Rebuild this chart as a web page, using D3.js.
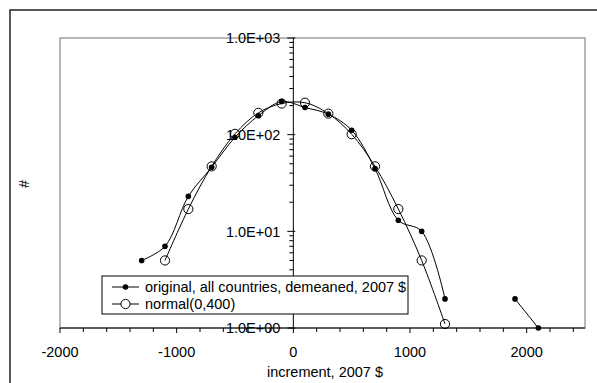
<!DOCTYPE html>
<html>
<head>
<meta charset="utf-8">
<script src="https://cdn.jsdelivr.net/npm/d3@7"></script>
<style>
  html, body { margin: 0; padding: 0; background: #fff; }
  svg text { font-family: "Liberation Sans", Arial, sans-serif; fill: #000; }
</style>
</head>
<body>
<svg id="chart" width="597" height="383"></svg>
<script>
// Increment bins (2007 $) and counts per bin
const originalX = [-1300, -1100, -900, -700, -500, -300, -100, 100, 300, 500, 700, 900, 1100, 1300, 1500, 1700, 1900, 2100];
const originalY = [5, 7, 23, 46, 94, 157, 220, 191, 163, 111, 44.5, 13, 10, 2, null, null, 2, 1];

const normalX = [-1100, -900, -700, -500, -300, -100, 100, 300, 500, 700, 900, 1100, 1300];
const normalY = [5, 17, 47, 102, 168, 210, 214, 165, 101, 47, 17, 5, 1.1];

const xTickLabels = [-2000, -1000, 0, 1000, 2000];
const yTickLabels = [1, 10, 100, 1000];

const seriesNames = ["original, all countries, demeaned, 2007 $", "normal(0,400)"];
const xTitle = "increment, 2007 $";
const yTitle = "#";

const FS = 14.5;
const svg = d3.select("#chart");
const plot = { left: 60, top: 38, right: 585, bottom: 328 };

const x = d3.scaleLinear().domain([-2000, 2500]).range([plot.left, plot.right]);
const y = d3.scaleLog().domain([1, 1000]).range([plot.bottom, plot.top]);

// outer chart frame
svg.append("rect")
  .attr("x", 10).attr("y", 10).attr("width", 640).attr("height", 420)
  .attr("fill", "none").attr("stroke", "#222").attr("stroke-width", 1.5);

// plot area frame
svg.append("rect")
  .attr("x", plot.left).attr("y", plot.top)
  .attr("width", plot.right - plot.left).attr("height", plot.bottom - plot.top)
  .attr("fill", "none").attr("stroke", "#a0a0a0").attr("stroke-width", 1.5);

// x axis along the bottom
const gx = svg.append("g");
gx.append("line")
  .attr("x1", plot.left).attr("x2", plot.right)
  .attr("y1", plot.bottom).attr("y2", plot.bottom)
  .attr("stroke", "#000").attr("stroke-width", 1);
const minorX = d3.range(-2000, 2500, 200);
gx.selectAll("line.minor").data(minorX).join("line")
  .attr("class", "minor")
  .attr("x1", d => x(d)).attr("x2", d => x(d))
  .attr("y1", plot.bottom).attr("y2", d => plot.bottom + (d % 1000 === 0 ? 5 : 4))
  .attr("stroke", "#000");
gx.selectAll("text").data(xTickLabels).join("text")
  .attr("x", d => x(d)).attr("y", 357)
  .attr("text-anchor", "middle").attr("font-size", FS)
  .text(d => d3.format("d")(d).replace("−", "-"));

// y axis crossing at x = 0
const x0 = x(0);
const gy = svg.append("g");
gy.append("line")
  .attr("x1", x0).attr("x2", x0)
  .attr("y1", plot.top).attr("y2", plot.bottom)
  .attr("stroke", "#000").attr("stroke-width", 1);
const minorY = [];
for (let dec = 1; dec < 1000; dec *= 10) {
  for (let m = 2; m <= 9; m++) minorY.push(dec * m);
}
gy.selectAll("line.minor").data(minorY).join("line")
  .attr("class", "minor")
  .attr("x1", x0 - 4).attr("x2", x0)
  .attr("y1", d => y(d)).attr("y2", d => y(d))
  .attr("stroke", "#000");
gy.selectAll("line.major").data(yTickLabels).join("line")
  .attr("class", "major")
  .attr("x1", x0 - 6).attr("x2", x0 + 2)
  .attr("y1", d => y(d)).attr("y2", d => y(d))
  .attr("stroke", "#000");
gy.selectAll("text").data(yTickLabels).join("text")
  .attr("x", x0 - 13).attr("y", d => y(d))
  .attr("dy", "0.36em")
  .attr("text-anchor", "end").attr("font-size", FS)
  .text(d => d.toExponential(1).toUpperCase().replace(/E([+-])(\d)$/, "E$10$2"));

// axis titles
svg.append("text")
  .attr("x", 325).attr("y", 377)
  .attr("text-anchor", "middle").attr("font-size", FS)
  .text(xTitle);
svg.append("text")
  .attr("transform", "translate(29,184) rotate(-90)")
  .attr("text-anchor", "middle").attr("font-size", FS)
  .text(yTitle);

// smoothed series lines
const line = d3.line()
  .defined(d => d[1] != null && d[1] > 0)
  .x(d => x(d[0])).y(d => y(d[1]))
  .curve(d3.curveCatmullRom.alpha(0.5));

const original = originalX.map((v, i) => [v, originalY[i]]);
const normal = normalX.map((v, i) => [v, normalY[i]]);

svg.append("path").datum(original)
  .attr("d", line).attr("fill", "none").attr("stroke", "#000").attr("stroke-width", 1);
svg.append("path").datum(normal)
  .attr("d", line).attr("fill", "none").attr("stroke", "#000").attr("stroke-width", 1);

svg.append("g").selectAll("circle").data(original.filter(d => d[1] != null)).join("circle")
  .attr("cx", d => x(d[0])).attr("cy", d => y(d[1])).attr("r", 2.8)
  .attr("fill", "#000");
svg.append("g").selectAll("circle").data(normal).join("circle")
  .attr("cx", d => x(d[0])).attr("cy", d => y(d[1])).attr("r", 4.6)
  .attr("fill", "none").attr("stroke", "#000").attr("stroke-width", 1);

// legend
const lg = svg.append("g").attr("transform", "translate(102,276)");
lg.append("rect")
  .attr("x", 0).attr("y", 0).attr("width", 306).attr("height", 38)
  .attr("fill", "#fff").attr("stroke", "#000").attr("stroke-width", 1);
seriesNames.forEach((name, i) => {
  const cy = 11 + i * 17;
  lg.append("line")
    .attr("x1", 10).attr("x2", 37).attr("y1", cy).attr("y2", cy)
    .attr("stroke", "#000");
  if (i === 0) {
    lg.append("circle").attr("cx", 23.5).attr("cy", cy).attr("r", 2.8).attr("fill", "#000");
  } else {
    lg.append("circle").attr("cx", 23.5).attr("cy", cy).attr("r", 4.6)
      .attr("fill", "#fff").attr("stroke", "#000");
  }
  lg.append("text")
    .attr("x", 43).attr("y", cy).attr("dy", "0.36em")
    .attr("font-size", FS)
    .text(name);
});
</script>
</body>
</html>
